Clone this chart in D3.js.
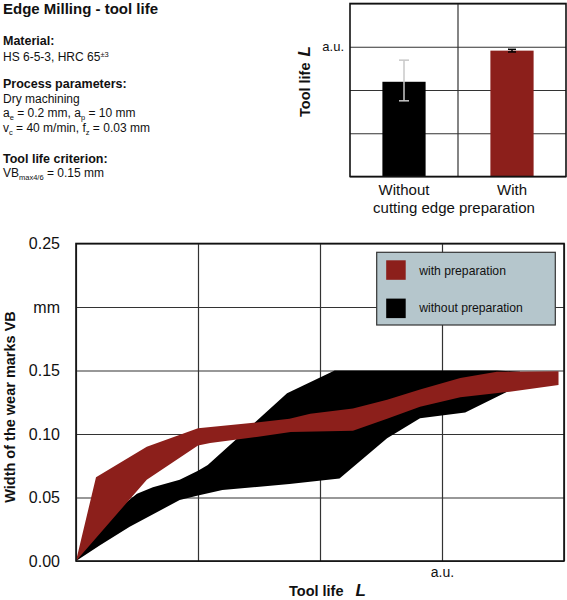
<!DOCTYPE html>
<html>
<head>
<meta charset="utf-8">
<script src="https://cdn.jsdelivr.net/npm/d3@7"></script>
<style>
  body { margin: 0; background: #fff; }
  svg { display: block; font-family: "Liberation Sans", Arial, sans-serif; }
</style>
</head>
<body>
<script>
// --- bar chart: tool life ---
const barCategories = ['Without', 'With']
const barValues = [2.19, 2.91]
const barErrLow = [1.75, 2.88]
const barErrHigh = [2.69, 2.94]
const barTicks = [0, 1, 2, 3, 4]
const barTickLabels = ['', '', '', 'a.u.', '']

// --- wear band chart ---
const lifeTicks = [0, 1, 2, 3, 4]
const lifeTickLabels = ['', '', '', 'a.u.', '']
const vbTicks = [0, 0.05, 0.10, 0.15, 0.20, 0.25]
const vbTickLabels = ['0.00', '0.05', '0.10', '0.15', 'mm', '0.25']

// with preparation (upper / lower edge of band)
const withUpperL = [0, 0.164, 0.58, 1.0, 1.48, 1.75, 1.92, 2.27, 2.55, 2.82, 3.15, 3.45, 3.955]
const withUpperVB = [0, 0.066, 0.090, 0.1045, 0.109, 0.112, 0.116, 0.120, 0.127, 0.135, 0.144, 0.149, 0.1495]
const withLowerL = [0, 0.58, 1.0, 1.1, 1.48, 1.76, 2.27, 2.55, 2.82, 3.15, 3.53, 3.955]
const withLowerVB = [0, 0.064, 0.091, 0.093, 0.0976, 0.1016, 0.1026, 0.112, 0.1215, 0.129, 0.133, 0.1386]

// without preparation
const withoutUpperL = [0, 0.2, 0.5, 0.63, 0.85, 1.0, 1.08, 1.73, 2.12, 3.45, 3.64]
const withoutUpperVB = [0, 0.03, 0.053, 0.058, 0.064, 0.071, 0.0756, 0.132, 0.15, 0.15, 0.149]
const withoutLowerL = [0, 0.2, 0.44, 0.85, 1.0, 1.2, 1.75, 2.16, 2.55, 2.82, 3.19, 3.53, 3.64]
const withoutLowerVB = [0, 0.0126, 0.027, 0.048, 0.0516, 0.056, 0.0606, 0.065, 0.0966, 0.1124, 0.117, 0.133, 0.138]

const seriesNames = ['with preparation', 'without preparation']
const red = '#8c1f1b'

const svg = d3.select('body').append('svg')
    .attr('width', 567)
    .attr('height', 600)

// ---------- header text ----------
const info = svg.append('g').attr('fill', '#111')

info.append('text').attr('x', 3).attr('y', 14)
    .attr('font-size', 15).attr('font-weight', 'bold')
    .text('Edge Milling - tool life')

info.append('text').attr('x', 3).attr('y', 45)
    .attr('font-size', 12.5).attr('font-weight', 'bold').text('Material:')
const hs = info.append('text').attr('x', 3).attr('y', 61).attr('font-size', 12)
hs.append('tspan').text('HS 6-5-3, HRC 65')
hs.append('tspan').attr('font-size', 7.5).attr('dy', -4).text('±3')

info.append('text').attr('x', 3).attr('y', 88)
    .attr('font-size', 12.5).attr('font-weight', 'bold').text('Process parameters:')
info.append('text').attr('x', 3).attr('y', 103).attr('font-size', 12).text('Dry machining')

// text with subscripts: [main, sub] pairs
function subText(y, parts) {
  const t = info.append('text').attr('x', 3).attr('y', y).attr('font-size', 12)
  let shift = 0
  parts.forEach(p => {
    t.append('tspan').attr('dy', -shift).text(p[0])
    shift = 0
    if (p[1]) {
      t.append('tspan').attr('font-size', 7.5).attr('dy', 3).text(p[1])
      shift = 3
    }
  })
  return t
}
subText(117, [['a', 'e'], ['\u00a0= 0.2 mm, a', 'p'], ['\u00a0= 10 mm']])
subText(132, [['v', 'c'], ['\u00a0= 40 m/min, f', 'z'], ['\u00a0= 0.03 mm']])

info.append('text').attr('x', 3).attr('y', 163)
    .attr('font-size', 12.5).attr('font-weight', 'bold').text('Tool life criterion:')
subText(177, [['VB', 'max4/6'], ['\u00a0= 0.15 mm']])

// ---------- bar chart ----------
const bx0 = 350, bx1 = 566, by0 = 3.5, by1 = 176.5

const xBar = d3.scaleBand()
    .domain(barCategories)
    .range([bx0, bx1])
    .paddingInner(0.6)
    .paddingOuter(0.3)

const yBar = d3.scaleLinear()
    .domain([0, 4])
    .range([by1, by0])

const barG = svg.append('g')

barG.append('g')
    .attr('transform', 'translate(' + bx0 + ',0)')
    .call(d3.axisLeft(yBar).tickValues(barTicks).tickSize(-(bx1 - bx0))
      .tickFormat((d, i) => barTickLabels[i]).tickPadding(6))
    .call(g => g.select('.domain').remove())
    .call(g => g.selectAll('line').attr('stroke', '#333').attr('stroke-width', 1.2))
    .call(g => g.selectAll('text').attr('font-size', 13).attr('fill', '#111')
      .attr('font-family', '"Liberation Sans", Arial, sans-serif'))

barG.append('line')
    .attr('x1', (bx0 + bx1) / 2).attr('x2', (bx0 + bx1) / 2)
    .attr('y1', by0).attr('y2', by1)
    .attr('stroke', '#333').attr('stroke-width', 1.2)

barG.selectAll('.bar')
    .data(barCategories)
    .enter()
      .append('rect')
      .attr('class', 'bar')
      .attr('x', d => xBar(d))
      .attr('width', xBar.bandwidth())
      .attr('y', (_, i) => yBar(barValues[i]))
      .attr('height', (_, i) => by1 - yBar(barValues[i]))
      .attr('fill', (_, i) => i === 0 ? '#000' : red)

const errColor = ['#c8c8c8', '#000']
const capW = [10, 8]
barCategories.forEach((c, i) => {
  const cx = xBar(c) + xBar.bandwidth() / 2
  const e = barG.append('g').attr('stroke', errColor[i]).attr('stroke-width', 1.5)
  e.append('line').attr('x1', cx).attr('x2', cx)
      .attr('y1', yBar(barErrLow[i])).attr('y2', yBar(barErrHigh[i]))
  e.append('line').attr('x1', cx - capW[i] / 2).attr('x2', cx + capW[i] / 2)
      .attr('y1', yBar(barErrLow[i])).attr('y2', yBar(barErrLow[i]))
  e.append('line').attr('x1', cx - capW[i] / 2).attr('x2', cx + capW[i] / 2)
      .attr('y1', yBar(barErrHigh[i])).attr('y2', yBar(barErrHigh[i]))
})

barG.append('rect')
    .attr('x', bx0).attr('y', by0)
    .attr('width', bx1 - bx0).attr('height', by1 - by0)
    .attr('fill', 'none').attr('stroke', '#111').attr('stroke-width', 1.6)

barG.selectAll('.cat')
    .data(barCategories)
    .enter()
      .append('text')
      .attr('x', d => xBar(d) + xBar.bandwidth() / 2)
      .attr('y', 195)
      .attr('text-anchor', 'middle')
      .attr('font-size', 15)
      .attr('fill', '#111')
      .text(d => d)

barG.append('text')
    .attr('x', (bx0 + bx1) / 2 - 4).attr('y', 213)
    .attr('text-anchor', 'middle').attr('font-size', 15).attr('fill', '#111')
    .text('cutting edge preparation')

const barTitle = barG.append('text')
    .attr('transform', 'translate(309.5,117) rotate(-90)')
    .attr('font-size', 14.5).attr('font-weight', 'bold').attr('fill', '#111')
barTitle.append('tspan').text('Tool life')
barTitle.append('tspan').attr('dx', 6).attr('font-style', 'italic').attr('font-size', 17).text('L')

// ---------- wear band chart ----------
const margin = {top: 243.5, right: 3, bottom: 39, left: 76}
const w = 567 - margin.left - margin.right
const h = 600 - margin.top - margin.bottom

const xScale = d3.scaleLinear().domain([0, 4]).range([0, w])
const yScale = d3.scaleLinear().domain([0, 0.25]).range([h, 0])

const g = svg.append('g')
    .attr('transform', 'translate(' + margin.left + ',' + margin.top + ')')

g.append('g')
    .call(d3.axisLeft(yScale).tickValues(vbTicks).tickSize(-w)
      .tickFormat((d, i) => vbTickLabels[i]).tickPadding(16))
    .call(s => s.select('.domain').remove())
    .call(s => s.selectAll('line').attr('stroke', '#333').attr('stroke-width', 1.2))
    .call(s => s.selectAll('text').attr('font-size', 16).attr('fill', '#111')
      .attr('font-family', '"Liberation Sans", Arial, sans-serif'))

g.append('g')
    .attr('transform', 'translate(0,' + h + ')')
    .call(d3.axisBottom(xScale).tickValues(lifeTicks).tickSize(-h)
      .tickFormat((d, i) => lifeTickLabels[i]).tickPadding(6))
    .call(s => s.select('.domain').remove())
    .call(s => s.selectAll('line').attr('stroke', '#333').attr('stroke-width', 1.2))
    .call(s => s.selectAll('text').attr('font-size', 14).attr('fill', '#111')
      .attr('font-family', '"Liberation Sans", Arial, sans-serif'))

const line = d3.line()
    .x(d => xScale(d[0]))
    .y(d => yScale(d[1]))

function bandOutline(upL, upV, loL, loV) {
  const up = upL.map((l, i) => [l, upV[i]])
  const lo = loL.map((l, i) => [l, loV[i]]).reverse()
  return line(up.concat(lo)) + 'Z'
}

g.append('path')
    .attr('d', bandOutline(withoutUpperL, withoutUpperVB, withoutLowerL, withoutLowerVB))
    .attr('fill', '#000')

g.append('path')
    .attr('d', bandOutline(withUpperL, withUpperVB, withLowerL, withLowerVB))
    .attr('fill', red)

g.append('rect')
    .attr('width', w).attr('height', h)
    .attr('fill', 'none').attr('stroke', '#111').attr('stroke-width', 1.6)

// legend
const legend = g.append('g').attr('transform', 'translate(' + (376.7 - margin.left) + ',' + (252.3 - margin.top) + ')')
legend.append('rect')
    .attr('width', 178.6).attr('height', 72.7)
    .attr('fill', '#b5c6cc').attr('stroke', '#333').attr('stroke-width', 1.2)

legend.selectAll('.sw')
    .data(seriesNames)
    .enter()
      .append('rect')
      .attr('x', 9.5)
      .attr('y', (_, i) => 8 + i * 38.3)
      .attr('width', 19.5).attr('height', 19.5)
      .attr('fill', (_, i) => i === 0 ? red : '#000')

legend.selectAll('.lt')
    .data(seriesNames)
    .enter()
      .append('text')
      .attr('x', 42.5)
      .attr('y', (_, i) => 22.5 + i * 37)
      .attr('font-size', 12.2)
      .attr('fill', '#111')
      .text(d => d)

// axis titles
svg.append('text')
    .attr('transform', 'translate(15,407) rotate(-90)')
    .attr('text-anchor', 'middle')
    .attr('font-size', 14.5).attr('font-weight', 'bold').attr('fill', '#111')
    .text('Width of the wear marks VB')

const xt = svg.append('text')
    .attr('x', 289).attr('y', 596)
    .attr('font-size', 14.5).attr('font-weight', 'bold').attr('fill', '#111')
xt.append('tspan').text('Tool life')
xt.append('tspan').attr('dx', 12).attr('font-style', 'italic').attr('font-size', 17).text('L')
</script>
</body>
</html>
